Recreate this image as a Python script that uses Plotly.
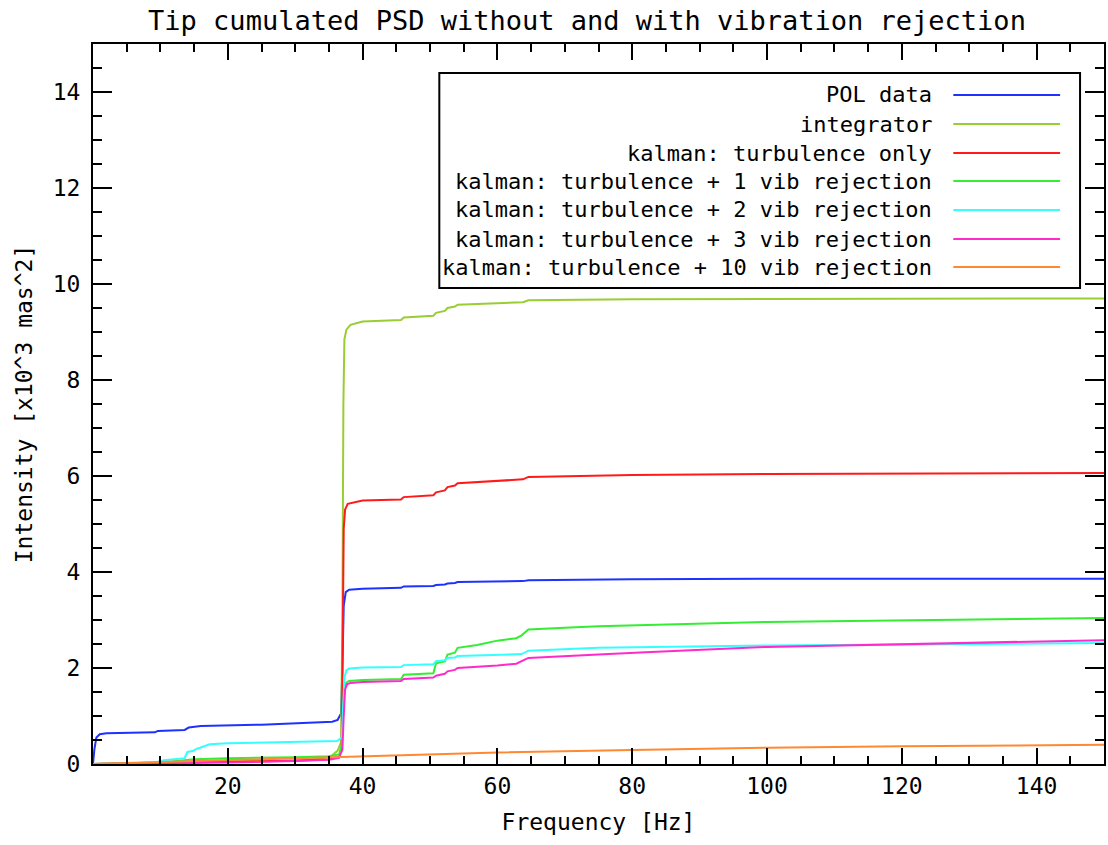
import plotly.graph_objects as go

# ---------------- data ----------------
names = [
    "POL data",
    "integrator",
    "kalman: turbulence only",
    "kalman: turbulence + 1 vib rejection",
    "kalman: turbulence + 2 vib rejection",
    "kalman: turbulence + 3 vib rejection",
    "kalman: turbulence + 10 vib rejection",
]
colors = ["#1e32ff", "#9acd32", "#ff1a1a", "#33ee33", "#33ffff", "#ff2acc", "#ff8833"]

pol_x = [0, 0.2, 0.5, 1.0, 2, 9.2, 9.6, 13.6, 14.2, 16, 25, 33, 35.5, 36.3, 36.8, 37.0, 37.2, 37.5, 38, 40,
         45.7, 46.1, 50.5, 50.9, 52.2, 52.6, 53.7, 54.1, 60, 63.8, 64.6, 80, 100, 150]
pol_y = [0, 0.3, 0.55, 0.62, 0.64, 0.66, 0.69, 0.71, 0.76, 0.79, 0.82, 0.86, 0.88, 0.92, 1.05, 2.0, 3.3, 3.58, 3.63, 3.65,
         3.67, 3.70, 3.71, 3.73, 3.74, 3.76, 3.77, 3.79, 3.80, 3.81, 3.83, 3.85, 3.86, 3.86]

int_x = [0, 10, 20, 28, 32, 34, 35.5, 36.3, 36.8, 37.0, 37.15, 37.3, 37.6, 38.2, 40,
         45.7, 46.1, 50.5, 50.9, 52.2, 52.6, 53.7, 54.1, 60, 63.8, 64.6, 70, 80, 100, 150]
int_y = [0, 0.02, 0.05, 0.07, 0.09, 0.12, 0.18, 0.28, 0.45, 3.0, 7.5, 8.85, 9.05, 9.15, 9.22,
         9.25, 9.30, 9.34, 9.40, 9.44, 9.50, 9.53, 9.57, 9.60, 9.62, 9.66, 9.67, 9.68, 9.69, 9.70]

kt_x = [0, 10, 20, 30, 35, 36.5, 36.9, 37.05, 37.2, 37.4, 37.8, 40,
        45.7, 46.1, 50.5, 50.9, 52.2, 52.6, 53.7, 54.1, 60, 63.8, 64.6, 80, 100, 150]
kt_y = [0, 0.02, 0.04, 0.07, 0.1, 0.15, 0.3, 2.5, 4.9, 5.3, 5.42, 5.49,
        5.51, 5.56, 5.60, 5.66, 5.70, 5.77, 5.80, 5.85, 5.90, 5.93, 5.98, 6.02, 6.04, 6.06]

k1_x = [0, 10, 15, 20, 30, 35, 36.5, 36.9, 37.1, 37.3, 37.6, 38, 40,
        45.7, 46.1, 50.5, 50.9, 52.2, 52.6, 53.7, 54.1, 57, 60, 62.8, 63.6, 64.6, 70, 75, 100, 150]
k1_y = [0, 0.03, 0.1, 0.12, 0.14, 0.16, 0.2, 0.4, 1.0, 1.55, 1.70, 1.73, 1.75,
        1.77, 1.86, 1.89, 2.10, 2.14, 2.28, 2.32, 2.42, 2.48, 2.57, 2.62, 2.68, 2.80, 2.84, 2.87, 2.96, 3.04]

k2_x = [0, 5, 9.5, 10.5, 13.6, 14.0, 14.8, 15.4, 15.9, 16.8, 17.3, 20, 30, 36.2, 36.9, 37.1, 37.3, 37.6, 38, 40,
        45.7, 46.1, 50.5, 50.9, 52.2, 52.6, 53.7, 54.1, 60, 63.6, 64.6, 75, 100, 120, 150]
k2_y = [0, 0.01, 0.04, 0.08, 0.12, 0.25, 0.27, 0.32, 0.34, 0.38, 0.41, 0.43, 0.46, 0.48, 0.55, 1.2, 1.8, 1.95, 1.99, 2.01,
        2.02, 2.06, 2.08, 2.14, 2.16, 2.21, 2.22, 2.25, 2.27, 2.29, 2.36, 2.42, 2.47, 2.49, 2.52]

k3_x = [0, 10, 20, 30, 35, 36.5, 37.0, 37.2, 37.4, 37.7, 38.2, 40,
        45.7, 46.1, 50.5, 50.9, 52.2, 52.6, 53.7, 54.1, 60, 62.8, 63.6, 64.6, 75, 82, 100, 120, 150]
k3_y = [0, 0.01, 0.03, 0.06, 0.09, 0.13, 0.3, 1.0, 1.55, 1.66, 1.69, 1.71,
        1.73, 1.77, 1.80, 1.84, 1.88, 1.93, 1.96, 2.00, 2.05, 2.09, 2.14, 2.21, 2.28, 2.33, 2.44, 2.50, 2.58]

k10_x = [0, 10, 20, 30, 37, 45, 60, 80, 100, 120, 150]
k10_y = [0, 0.04, 0.08, 0.12, 0.16, 0.19, 0.24, 0.29, 0.34, 0.37, 0.40]

series_x = [pol_x, int_x, kt_x, k1_x, k2_x, k3_x, k10_x]
series_y = [pol_y, int_y, kt_y, k1_y, k2_y, k3_y, k10_y]

x_ticks = [20, 40, 60, 80, 100, 120, 140]
y_ticks = [0, 2, 4, 6, 8, 10, 12, 14]

title = "Tip cumulated PSD without and with vibration rejection"
x_title = "Frequency [Hz]"
y_title = "Intensity [x10^3 mas^2]"

# ---------------- layout geometry ----------------
W, H = 1108, 845
L, R, T, B = 93, 2, 44, 81
PW, PH = W - L - R, H - T - B
FONT = "DejaVu Sans Mono"


def px(xp):
    return (xp - L) / PW


def py(yp):
    return (H - B - yp) / PH


fig = go.Figure()
for nm, c, xs, ys in zip(names, colors, series_x, series_y):
    fig.add_trace(go.Scatter(x=xs, y=ys, mode="lines", name=nm,
                             line=dict(color=c, width=2), showlegend=False))

axis_common = dict(showline=True, linecolor="black", linewidth=2, mirror="allticks",
                   ticks="inside", tickwidth=2, tickcolor="black", showgrid=False,
                   zeroline=False, tickfont=dict(family=FONT, size=23, color="black"))

fig.update_xaxes(range=[0, 150], tickmode="array", tickvals=x_ticks, ticklen=16,
                 minor=dict(tick0=0, dtick=5, ticklen=8, tickwidth=2, tickcolor="black", ticks="inside"),
                 title=dict(text=x_title, font=dict(family=FONT, size=23, color="black"), standoff=16),
                 **axis_common)
fig.update_yaxes(range=[0, 15], tickmode="array", tickvals=y_ticks, ticklen=19,
                 minor=dict(tick0=0, dtick=0.5, ticklen=9, tickwidth=2, tickcolor="black", ticks="inside"),
                 title=dict(text=y_title, font=dict(family=FONT, size=23, color="black"), standoff=14),
                 ticklabelstandoff=6,
                 **axis_common)

# manual legend (text on the left, right-aligned; sample line on the right)
shapes = [dict(type="rect", xref="paper", yref="paper", x0=px(440), x1=px(1082), y0=py(288), y1=py(73),
               line=dict(color="black", width=2), fillcolor="white", layer="above")]
annotations = []
row_y = [95, 124, 153, 181, 210, 239, 267]
for nm, c, ry in zip(names, colors, row_y):
    shapes.append(dict(type="line", xref="paper", yref="paper", x0=px(955), x1=px(1062), y0=py(ry), y1=py(ry),
                       line=dict(color=c, width=2), layer="above"))
    annotations.append(dict(text=nm, xref="paper", yref="paper", x=px(936), y=py(ry), xanchor="right",
                            yanchor="middle", showarrow=False,
                            font=dict(family=FONT, size=22, color="black")))

fig.update_layout(
    width=W, height=H, margin=dict(l=L, r=R, t=T, b=B),
    paper_bgcolor="white", plot_bgcolor="white",
    title=dict(text=title, x=587 / W, xanchor="center", y=1 - 21 / H, yanchor="middle",
               font=dict(family=FONT, size=27, color="black")),
    shapes=shapes, annotations=annotations, showlegend=False,
)

fig.write_html("out.html", config={"displayModeBar": False},
               post_script="document.body.style.margin='0';")
